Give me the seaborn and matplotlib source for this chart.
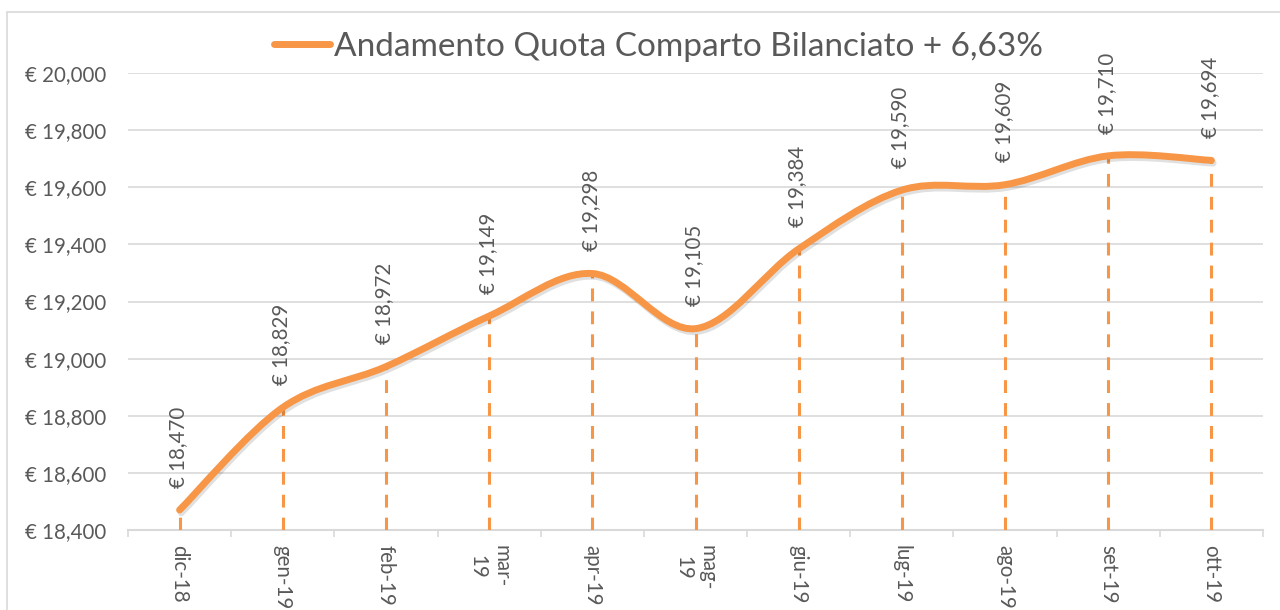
import matplotlib
matplotlib.use("Agg")
import matplotlib.pyplot as plt
import matplotlib.patheffects as pe
from matplotlib.path import Path
from matplotlib.patches import PathPatch, Rectangle
from matplotlib.lines import Line2D
import seaborn as sns
import pandas as pd

months = ["dic-18", "gen-19", "feb-19", "mar-\n19", "apr-19", "mag-\n19",
          "giu-19", "lug-19", "ago-19", "set-19", "ott-19"]
values = [18470, 18829, 18972, 19149, 19298, 19105, 19384, 19590, 19609, 19710, 19694]
yticks = [18400, 18600, 18800, 19000, 19200, 19400, 19600, 19800, 20000]
title = "Andamento Quota Comparto Bilanciato + 6,63%"

ORANGE = "#F79646"
GRID = "#D9D9D9"
TXT = "#595959"
FONT = "Lato"
FS = 14.8

sns.set_theme(style="white")
plt.rcParams["font.family"] = [FONT, "DejaVu Sans"]

fig = plt.figure(figsize=(12.8, 6.1), dpi=100)
ax = fig.add_axes([128 / 1280, 80 / 610, (1263 - 128) / 1280, (530 - 73) / 610])

df = pd.DataFrame({"pos": list(range(len(values))), "val": values})
sns.lineplot(data=df, x="pos", y="val", ax=ax, color=ORANGE, legend=False)
for ln in ax.get_lines():
    ln.set_visible(False)

# smooth (Bezier) curve through the data points
n = len(values)
pts = list(zip(df["pos"], df["val"]))
verts = [pts[0]]
codes = [Path.MOVETO]
for i in range(n - 1):
    p0 = pts[i - 1] if i > 0 else pts[i]
    p1 = pts[i]
    p2 = pts[i + 1]
    p3 = pts[i + 2] if i + 2 < n else pts[i + 1]
    c1 = (p1[0] + (p2[0] - p0[0]) / 6, p1[1] + (p2[1] - p0[1]) / 6)
    c2 = (p2[0] - (p3[0] - p1[0]) / 6, p2[1] - (p3[1] - p1[1]) / 6)
    verts += [c1, c2, p2]
    codes += [Path.CURVE4] * 3
curve = PathPatch(Path(verts, codes), fill=False, edgecolor=ORANGE, lw=5.0,
                  capstyle="round", joinstyle="round", zorder=4,
                  path_effects=[pe.SimpleLineShadow(offset=(1.2, -2.0), alpha=0.12, shadow_color="black"),
                                pe.Normal()])
ax.add_patch(curve)

# dashed drop lines
ax.vlines(df["pos"], yticks[0], df["val"], colors=ORANGE, linestyles=(0, (4.2, 3.3)),
          lw=2.2, zorder=3)

# data labels
for x, v in zip(df["pos"], values):
    ax.annotate(f"€ {v:,}", (x, v), xytext=(-1, 16), textcoords="offset points",
                rotation=90, ha="center", va="bottom", fontsize=FS, color=TXT,
                zorder=5)

ax.set_xlim(-0.5, n - 0.5)
ax.set_ylim(yticks[0], yticks[-1])
ax.set_yticks(yticks)
ax.set_yticklabels([f"€ {v:,}" for v in yticks], fontsize=FS, color=TXT)
ax.set_xticks(range(n))
ax.set_xticklabels(months, rotation=270, fontsize=FS, color=TXT, va="top",
                   ha="center", linespacing=1.25)
ax.set_xticks([i - 0.5 for i in range(n + 1)], minor=True)
ax.tick_params(axis="x", which="major", length=0, pad=11)
ax.tick_params(axis="x", which="minor", length=5, width=1.2, color=GRID, bottom=True)
ax.tick_params(axis="y", length=0, pad=16)
ax.set_xlabel("")
ax.set_ylabel("")

ax.grid(axis="y", color=GRID, lw=1.2)
ax.set_axisbelow(True)
for s in ["top", "right", "left"]:
    ax.spines[s].set_visible(False)
ax.spines["bottom"].set_color(GRID)
ax.spines["bottom"].set_linewidth(1.5)
ax.spines["bottom"].set_zorder(2)

handle = Line2D([], [], color=ORANGE, lw=5.0, solid_capstyle="round")
fig.legend([handle], [title], loc="center", bbox_to_anchor=(658 / 1280, 1 - 47 / 610),
           frameon=False, fontsize=24, labelcolor=TXT, handlelength=1.7,
           handletextpad=0.1, borderpad=0)

fig.patches.append(Rectangle((7 / 1280, -0.1), 1.2, (610 - 12) / 610 + 0.1,
                             transform=fig.transFigure, fill=False,
                             edgecolor=GRID, lw=1.2))

fig.savefig("out.png", dpi=100)
